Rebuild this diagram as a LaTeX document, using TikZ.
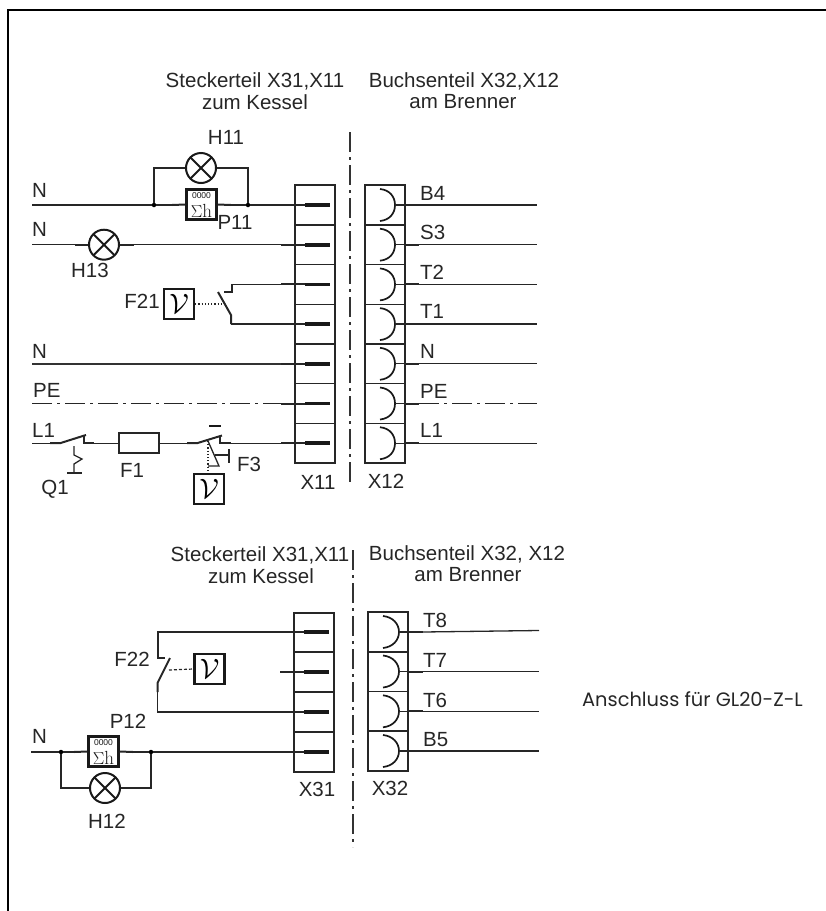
\documentclass[tikz,border=0pt]{standalone}
\usepackage{fontspec}
\setsansfont{Liberation Sans}
\newfontfamily\geofont{Poppins}
\tikzset{
  wire/.style={line width=1.3pt,draw=black!85},
  med/.style={line width=2pt,draw=black!85},
  heavy/.style={line width=3.6pt,draw=black!90},
  pebus/.style={line width=1.3pt,draw=black!85,dash pattern=on 20pt off 5pt on 3pt off 5pt},
  axis/.style={line width=1.1pt,draw=black!80,dash pattern=on 20pt off 5pt on 3pt off 5pt},
  boxline/.style={line width=1.4pt,draw=black!85},
  sock/.style={line width=1.7pt,draw=black!90},
  lbl/.style={font=\sffamily\fontsize{20.5}{21}\selectfont,text=black!85,inner sep=0pt,align=center},
  lamp/.style={circle,draw=black!90,line width=2pt,minimum size=30pt,inner sep=0pt,
    path picture={\draw[line width=2pt,black!90]
      (path picture bounding box.south west)--(path picture bounding box.north east)
      (path picture bounding box.north west)--(path picture bounding box.south east);}},
  pbox/.style={rectangle,draw=black!90,line width=2.4pt,minimum size=30pt,inner sep=0pt},
  tbox/.style={rectangle,draw=black!90,line width=2.4pt,minimum size=30pt,inner sep=0pt,
    font=\rmfamily},
  dotj/.style={circle,fill=black,inner sep=0pt,minimum size=4.5pt},
  tinyt/.style={font=\sffamily\fontsize{8.5}{8.5}\selectfont,inner sep=0pt,text=black!90},
  sumt/.style={font=\rmfamily\fontsize{19}{19}\selectfont,inner sep=0pt,text=black!90},
}
\newcommand{\thetasym}{\scalebox{2.8}{$\mathcal{V}$}}
\begin{document}
\begin{tikzpicture}[x=1pt,y=-1pt]
\useasboundingbox (0,0) rectangle (826,911);
% frame
\coordinate (fbl) at (7.7,911); \coordinate (ftl) at (7.7,10); \coordinate (ftr) at (826,10);
\draw[line width=2pt,black] (fbl) -- (ftl) -- (ftr);
% headers
\node[lbl] (h1) at (255,81) {Steckerteil X31,X11};
\node[lbl] (h2) at (255,102) {zum Kessel};
\node[lbl] (h3) at (464,81) {Buchsenteil X32,X12};
\node[lbl] (h4) at (463,102) {am Brenner};
\node[lbl] (h5) at (260,555) {Steckerteil X31,X11};
\node[lbl] (h6) at (261,576) {zum Kessel};
\node[lbl] (h7) at (467,554) {Buchsenteil X32, X12};
\node[lbl] (h8) at (468,575) {am Brenner};
% axes
\coordinate (a1) at (350,132); \coordinate (a2) at (350,483);
\coordinate (a3) at (353,550); \coordinate (a4) at (353,847);
\draw[axis] (a1) -- (a2);
\draw[axis] (a3) -- (a4);
% upper connectors
\draw[boxline] (295,185) rectangle (335,463);
\draw[boxline] (365,185) rectangle (405,463);
\foreach \n/\y in {1/205,2/244.7,3/284.4,4/324.1,5/363.8,6/403.5,7/443.2}{
  \coordinate (p\n) at (281,\y);
  \coordinate (r\n) at (419,\y);
  \coordinate (e\n) at (537,\y);
  \ifnum\n<7 \draw[boxline] (295,\y+19.85) -- (335,\y+19.85);
             \draw[boxline] (365,\y+19.85) -- (405,\y+19.85);\fi
  \draw[med] (p\n) -- (305,\y);
  \draw[heavy] (305,\y) -- (330,\y);
  \draw[sock] (380,\y-16) .. controls (390,\y-15) and (395,\y-8) .. (395,\y)
              .. controls (395,\y+8) and (390,\y+15) .. (380,\y+16);
  \draw[wire] (395,\y) -- (r\n);
  \draw[med] (405,\y) -- (r\n);
}
\foreach \n in {1,2,3,4,5,7}{ \draw[wire] (r\n) -- (e\n); }
\draw[pebus] (r6) -- (e6);
\node[lbl,anchor=west] (lb4) at (420,193) {B4};
\node[lbl,anchor=west] (ls3) at (420,232) {S3};
\node[lbl,anchor=west] (lt2) at (420,272) {T2};
\node[lbl,anchor=west] (lt1) at (420,311) {T1};
\node[lbl,anchor=west] (ln) at (420,351) {N};
\node[lbl,anchor=west] (lpe) at (420,391) {PE};
\node[lbl,anchor=west] (ll1) at (420,430) {L1};
\node[lbl] (x11) at (318,482) {X11};
\node[lbl] (x12) at (386,481) {X12};
% row 1: H11 / P11
\coordinate (n1) at (32,205);
\node[dotj] (j1) at (154,205) {};
\node[dotj] (j2) at (248,205) {};
\node[lamp] (H11) at (201,168) {};
\node[pbox] (P11) at (201.5,204.5) {};
\node[tinyt] (P11a) at (201.5,196) {0000};
\node[sumt] (P11b) at (201.5,210.5) {$\Sigma$h};
\coordinate (h11l) at (172,168); \coordinate (h11r) at (231,168);
\coordinate (pl) at (172,205); \coordinate (pr) at (231,205);
\draw[wire] (n1) -- (j1) -- (pl);
\draw[med] (pl) -- (P11.west);
\draw[med] (P11.east) -- (pr);
\draw[wire] (pr) -- (j2) -- (p1);
\draw[wire] (j1) |- (h11l);
\draw[med] (h11l) -- (H11.west);
\draw[med] (H11.east) -- (h11r);
\draw[wire] (h11r) -| (j2);
\node[lbl] (tH11) at (226,137) {H11};
\node[lbl] (tP11) at (235,222) {P11};
\node[lbl,anchor=west] (tN1) at (32,190) {N};
% row 2: H13
\coordinate (n2) at (32,244.7);
\node[lamp] (H13) at (104,244.7) {};
\coordinate (h13l) at (75,244.7); \coordinate (h13r) at (134,244.7);
\draw[wire] (n2) -- (h13l);
\draw[med] (h13l) -- (H13.west);
\draw[med] (H13.east) -- (h13r);
\draw[wire] (h13r) -- (p2);
\node[lbl,anchor=west] (tN2) at (32,229) {N};
\node[lbl] (tH13) at (90,270) {H13};
% F21
\node[tbox] (F21) at (179,304) {\thetasym};
\node[lbl] (tF21) at (142,301) {F21};
\coordinate (f21c) at (232,284.4); \coordinate (f21d) at (232,292);
\coordinate (f21e) at (224,292);
\coordinate (f21a) at (218,292); \coordinate (f21b) at (231,315);
\coordinate (f21f) at (231,324.1); \coordinate (f21m) at (222,304);
\draw[wire] (p3) -- (f21c);
\draw[med] (f21c) -- (f21d) -- (f21e);
\draw[med] (f21a) -- (f21b) -- (f21f);
\draw[wire] (f21f) -- (p4);
\draw[line width=1.2pt,black!85,dotted] (F21.east) -- (f21m);
% N, PE
\coordinate (n5) at (32,363.8); \coordinate (n6) at (32,403.5);
\draw[line width=1.6pt,black!80] (n5) -- (p5);
\draw[pebus] (n6) -- (p6);
\node[lbl,anchor=west] (tN5) at (32,351) {N};
\node[lbl,anchor=west] (tPE) at (33,390) {PE};
\node[lbl,anchor=west] (tL1) at (32,430) {L1};
% L1
\coordinate (n7) at (32,443.2);
\coordinate (q1) at (50,443.2); \coordinate (q2) at (60,443.2);
\coordinate (q3) at (86,435); \coordinate (q4) at (84,435);
\coordinate (q5) at (84,443.2); \coordinate (q6) at (94,443.2);
\node[rectangle,draw=black!85,line width=1.5pt,minimum width=40pt,minimum height=20pt,inner sep=0pt] (F1) at (139,443.2) {};
\coordinate (s1) at (187,443.2); \coordinate (s2) at (197,443.2);
\coordinate (s3) at (222,435.5); \coordinate (s4) at (220,435.5);
\coordinate (s5) at (220,443.2); \coordinate (s6) at (231,443.2);
\draw[wire] (n7) -- (q1);
\draw[med] (q1) -- (q2) -- (q3);
\draw[med] (q4) -- (q5) -- (q6);
\draw[wire] (q6) -- (F1.west);
\draw[wire] (F1.east) -- (s1);
\draw[med] (s1) -- (s2) -- (s3);
\draw[med] (s4) -- (s5) -- (s6);
\draw[wire] (s6) -- (p7);
% Q1 release
\coordinate (z1) at (74,446); \coordinate (z2) at (74,455); \coordinate (z3) at (82,459);
\coordinate (z4) at (74,464); \coordinate (z5) at (74,473);
\coordinate (z6) at (67,473); \coordinate (z7) at (82,473);
\draw[wire] (z1) -- (z2) -- (z3) -- (z4) -- (z5);
\draw[wire] (z6) -- (z7);
% F3 mechanics
\node[tbox] (F3T) at (209,489) {\thetasym};
\coordinate (b1) at (209,426); \coordinate (b2) at (221,426);
\draw[line width=2.4pt,black!90] (b1) -- (b2);
\coordinate (m1) at (208,441); \coordinate (m2) at (219,466); \coordinate (m3) at (208,466);
\coordinate (m4) at (215,455); \coordinate (m5) at (229,455);
\coordinate (m6) at (229,449); \coordinate (m7) at (229,463);
\draw[wire] (m1) -- (m2) -- (m3);
\draw[wire] (m4) -- (m5);
\draw[wire] (m6) -- (m7);
\draw[line width=1.2pt,black!85,dotted] (m1) -- (F3T.north -| m1);
\node[lbl] (tF1) at (132,470) {F1};
\node[lbl] (tF3) at (249,464) {F3};
\node[lbl] (tQ1) at (55,489) {Q1};
% ===== lower block
\draw[boxline] (294,613) rectangle (334,772);
\draw[boxline] (368,612) rectangle (408,771);
\foreach \n/\y/\yy in {1/632/632,2/672/671.5,3/712/711.3,4/752/751}{
  \coordinate (P\n) at (280,\y);
  \coordinate (R\n) at (423,\yy);
  \coordinate (E\n) at (539,\yy);
  \ifnum\n<4 \draw[boxline] (294,\y+20) -- (334,\y+20);
             \draw[boxline] (368,\yy+19.8) -- (408,\yy+19.8);\fi
  \draw[med] (P\n) -- (304,\y);
  \draw[heavy] (304,\y) -- (329,\y);
  \draw[sock] (383,\yy-16) .. controls (393,\yy-15) and (399,\yy-8) .. (399,\yy)
              .. controls (399,\yy+8) and (393,\yy+15) .. (383,\yy+16);
  \draw[wire] (399,\yy) -- (R\n);
  \draw[med] (408,\yy) -- (R\n);
}
\coordinate (E1b) at (539,630.5);
\draw[wire] (R1) -- (E1b);
\foreach \n in {2,3,4}{ \draw[wire] (R\n) -- (E\n); }
\node[lbl,anchor=west] (lt8) at (423,620) {T8};
\node[lbl,anchor=west] (lt7) at (423,660) {T7};
\node[lbl,anchor=west] (lt6) at (423,700) {T6};
\node[lbl,anchor=west] (lb5) at (423,740) {B5};
\node[lbl] (x31) at (317,789) {X31};
\node[lbl] (x32) at (390,788) {X32};
\node[lbl,font=\geofont\fontsize{19.4}{21}\selectfont] (note) at (692.5,699) {Anschluss für GL20-Z-L};
% F22
\coordinate (g1) at (158,632); \coordinate (g2) at (158,658); \coordinate (g3) at (165,658);
\coordinate (g4) at (158,648);
\coordinate (g5) at (170,658); \coordinate (g6) at (157.5,683); \coordinate (g7) at (157.5,692);
\coordinate (g8) at (157.5,712); \coordinate (g9) at (169,670);
\draw[wire] (P1) -- (g1) -- (g4);
\draw[med] (g4) -- (g2) -- (g3);
\draw[med] (g5) -- (g6) -- (g7);
\draw[wire] (g7) -- (g8) -- (P3);
\node[tbox] (F22) at (209.5,669) {\thetasym};
\draw[line width=1.2pt,black!85,densely dashed] (g9) -- (F22.west);
\node[lbl] (tF22) at (132,659) {F22};
% P12 / H12
\coordinate (n8) at (31,752);
\node[dotj] (j3) at (61,752) {};
\node[dotj] (j4) at (151,752) {};
\node[pbox] (P12) at (103.5,751.5) {};
\node[tinyt] (P12a) at (103.5,743) {0000};
\node[sumt] (P12b) at (103.5,757.5) {$\Sigma$h};
\node[lamp] (H12) at (105,788) {};
\coordinate (ql) at (74,752); \coordinate (qr) at (133,752);
\coordinate (h12l) at (75,788); \coordinate (h12r) at (135,788);
\draw[wire] (n8) -- (j3) -- (ql);
\draw[med] (ql) -- (P12.west);
\draw[med] (P12.east) -- (qr);
\draw[wire] (qr) -- (j4) -- (P4);
\draw[wire] (j3) |- (h12l);
\draw[med] (h12l) -- (H12.west);
\draw[med] (H12.east) -- (h12r);
\draw[wire] (h12r) -| (j4);
\node[lbl] (tP12) at (128,721) {P12};
\node[lbl,anchor=west] (tN8) at (32,736) {N};
\node[lbl] (tH12) at (107,821) {H12};
\end{tikzpicture}
\end{document}
